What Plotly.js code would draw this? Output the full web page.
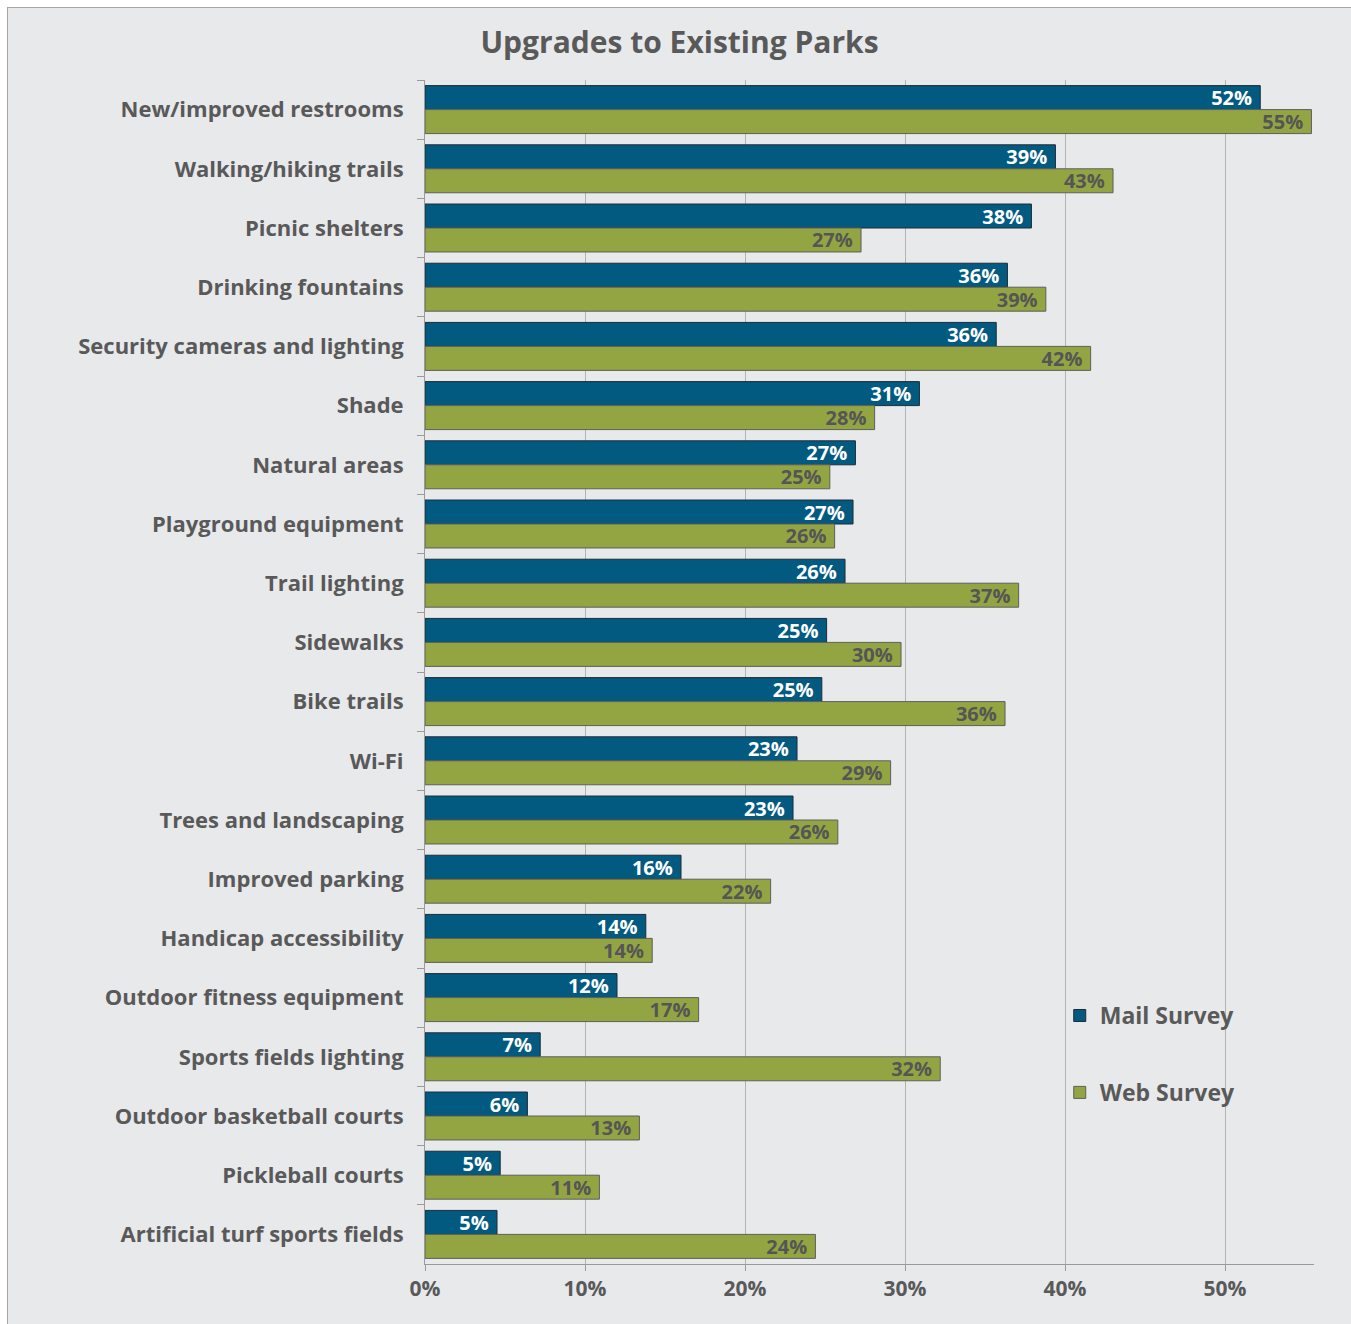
<!DOCTYPE html>
<html><head><meta charset="utf-8">
<script src="https://cdn.plot.ly/plotly-3.0.1.min.js"></script>
<style>
html,body{margin:0;padding:0;background:#ffffff;}
#wrap{position:absolute;left:7px;top:7px;width:1343px;height:1320px;border:1px solid #a6a6a6;background:#e8e9eb;}
#chart{width:1343px;height:1320px;}
</style></head>
<body><div id="wrap"><div id="chart"></div></div>
<script>
const categories = ["New/improved restrooms","Walking/hiking trails","Picnic shelters","Drinking fountains","Security cameras and lighting","Shade","Natural areas","Playground equipment","Trail lighting","Sidewalks","Bike trails","Wi-Fi","Trees and landscaping","Improved parking","Handicap accessibility","Outdoor fitness equipment","Sports fields lighting","Outdoor basketball courts","Pickleball courts","Artificial turf sports fields"];
const mailSurvey = [52.2,39.4,37.9,36.4,35.7,30.9,26.9,26.75,26.25,25.1,24.8,23.25,23.0,16.0,13.8,12.0,7.2,6.4,4.7,4.5];
const webSurvey = [55.4,43.0,27.25,38.8,41.6,28.1,25.3,25.6,37.1,29.75,36.25,29.1,25.8,21.6,14.2,17.1,32.2,13.4,10.9,24.4];
const mailLabels = ["52%","39%","38%","36%","36%","31%","27%","27%","26%","25%","25%","23%","23%","16%","14%","12%","7%","6%","5%","5%"];
const webLabels = ["55%","43%","27%","39%","42%","28%","25%","26%","37%","30%","36%","29%","26%","22%","14%","17%","32%","13%","11%","24%"];
const seriesNames = ["Mail Survey","Web Survey"];

const FONT = "Open Sans, Lato, sans-serif";
const GRAY = "#595959";

const traces = [
  {type:"bar", orientation:"h", name:seriesNames[0], legendgroup:"a",
   y:categories, x:mailSurvey.map(v=>v/100),
   text:mailLabels.map(t=>t+"\u00a0"), textposition:"inside", insidetextanchor:"end",
   constraintext:"none", cliponaxis:false,
   textfont:{family:FONT, size:20, color:"#ffffff", weight:700},
   marker:{color:"#035a80", line:{color:"#1e2b36", width:1}}, hoverinfo:"x+y"},
  {type:"bar", orientation:"h", name:seriesNames[1], legendgroup:"b",
   y:categories, x:webSurvey.map(v=>v/100),
   text:webLabels.map(t=>t+"\u00a0"), textposition:"inside", insidetextanchor:"end",
   constraintext:"none", cliponaxis:false,
   textfont:{family:FONT, size:20, color:"#555555", weight:700},
   marker:{color:"#93a543", line:{color:"#5e5e5e", width:1}}, hoverinfo:"x+y"}
];

const layout = {
  width:1343, height:1320,
  paper_bgcolor:"#e8e9eb", plot_bgcolor:"#e8e9eb",
  margin:{l:417, r:37, t:72, b:64},
  font:{family:FONT, color:GRAY, size:21, weight:700},
  title:{text:"Upgrades to Existing Parks", x:0.5, xref:"container", xanchor:"center", y:0.9735, yanchor:"middle",
         font:{family:FONT, size:30, color:GRAY, weight:700}},
  barmode:"group", bargap:0.19, bargroupgap:0,
  xaxis:{range:[0,0.5556], tickvals:[0,0.1,0.2,0.3,0.4,0.5], tickformat:".0%",
         showgrid:true, gridcolor:"#b3b3b3", gridwidth:1,
         showline:true, linecolor:"#9a9a9a", linewidth:1,
         ticks:"outside", ticklen:6, tickcolor:"#9a9a9a",
         tickfont:{family:FONT, size:21, color:GRAY, weight:700}, zeroline:false, fixedrange:true},
  yaxis:{autorange:"reversed", type:"category", showline:true, linecolor:"#9a9a9a", linewidth:1,
         ticks:"outside", ticklen:7, tickcolor:"#9a9a9a", tickson:"boundaries",
         ticklabelstandoff:16, showgrid:false,
         tickfont:{family:FONT, size:22, color:GRAY, weight:700}, fixedrange:true},
  showlegend:true,
  legend:{x:0.714, y:0.228, xanchor:"left", yanchor:"top", bgcolor:"rgba(0,0,0,0)",
          tracegroupgap:44, itemwidth:30, traceorder:"grouped",
          font:{family:FONT, size:23, color:GRAY, weight:700}}
};

Plotly.newPlot("chart", traces, layout, {displayModeBar:false, staticPlot:true});
</script></body></html>
